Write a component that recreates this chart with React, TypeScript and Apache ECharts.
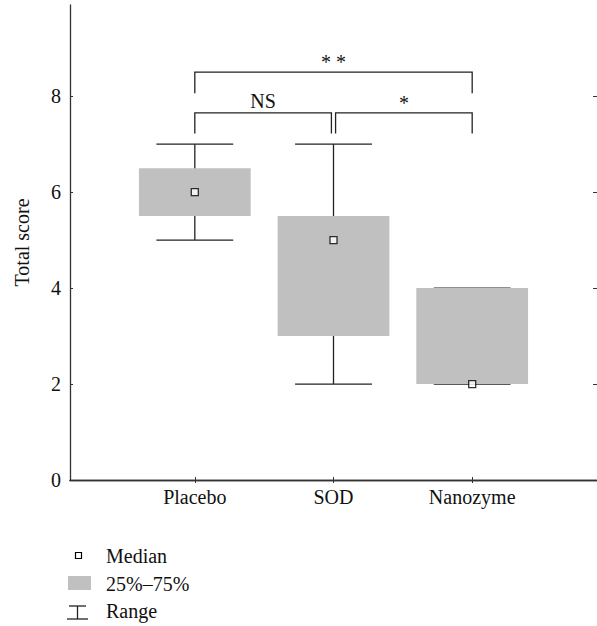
import React, { useEffect, useRef } from "react";
import * as echarts from "echarts";

const categories = ["Placebo", "SOD", "Nanozyme"];
const categoryPos = [1, 2, 3];
const rangeMin = [5, 2, 2];
const q1 = [5.5, 3, 2];
const medians = [6, 5, 2];
const q3 = [6.5, 5.5, 4];
const rangeMax = [7, 7, 4];
const yTicks = [0, 2, 4, 6, 8];
const rightTicks = [2, 4, 6, 8];

const bracketLabels = ["NS", "*", "**"];
const bracketFrom = [1, 2.015, 1];
const bracketTo = [1.985, 3, 3];
const bracketBar = [7.65, 7.65, 8.5];
const bracketLeg = [7.22, 7.22, 8.06];

const FONT = "Liberation Serif";
const FS = 20;
const INK = "#222";
const AXIS = "#333";
const BOX = "#c0c0c0";

export default function App() {
  const ref = useRef<HTMLDivElement>(null);
  useEffect(() => {
    document.body.style.margin = "0";
    if (!ref.current) return;
    const chart = echarts.init(ref.current, undefined, { renderer: "svg" });
    const capHalf = 0.277;
    const boxHalf = 0.403;

    const rangeData = categoryPos.map((p, i) => [p, rangeMin[i], rangeMax[i]]);
    const boxData = categoryPos.map((p, i) => [p, q1[i], q3[i]]);
    const medianData = categoryPos.map((p, i) => [p, medians[i]]);
    const bracketData = bracketLabels.map((l, i) => [
      bracketFrom[i],
      bracketTo[i],
      bracketBar[i],
      bracketLeg[i],
      i,
    ]);

    const option: any = {
      animation: false,
      textStyle: { fontFamily: FONT },
      grid: { left: 70, right: -2, top: 5, bottom: 146, containLabel: false },
      xAxis: [
        {
          type: "value",
          min: 0.1,
          max: 3.9,
          position: "bottom",
          splitLine: { show: false },
          axisLine: { show: true, lineStyle: { color: AXIS, width: 1.3 } },
          axisTick: {
            show: true,
            inside: true,
            length: 3,
            customValues: categoryPos,
            lineStyle: { color: AXIS },
          },
          axisLabel: {
            show: true,
            customValues: categoryPos,
            formatter: (v: number) => categories[Math.round(v) - 1] ?? "",
            fontFamily: FONT,
            fontSize: FS,
            color: "#111",
            margin: 7,
          },
        },
        {
          type: "value",
          min: 0.1,
          max: 3.9,
          position: "top",
          splitLine: { show: false },
          axisLine: { show: true, lineStyle: { color: AXIS, width: 1.3 } },
          axisTick: {
            show: true,
            inside: true,
            length: 3,
            customValues: categoryPos,
            lineStyle: { color: AXIS },
          },
          axisLabel: { show: false },
        },
      ],
      yAxis: [
        {
          type: "value",
          min: 0,
          max: 9.9,
          position: "left",
          name: "Total score",
          nameLocation: "middle",
          nameRotate: 90,
          nameGap: 38,
          nameTextStyle: { fontFamily: FONT, fontSize: FS, color: "#111" },
          splitLine: { show: false },
          axisLine: { show: true, lineStyle: { color: AXIS, width: 1.3 } },
          axisTick: {
            show: true,
            inside: true,
            length: 3,
            customValues: yTicks,
            lineStyle: { color: AXIS },
          },
          axisLabel: {
            show: true,
            customValues: yTicks,
            fontFamily: FONT,
            fontSize: FS,
            color: "#111",
            margin: 9,
          },
        },
        {
          type: "value",
          min: 0,
          max: 9.9,
          position: "right",
          splitLine: { show: false },
          axisLine: { show: false },
          axisTick: {
            show: true,
            inside: true,
            length: 4,
            customValues: rightTicks,
            lineStyle: { color: AXIS },
          },
          axisLabel: { show: false },
        },
      ],
      series: [
        {
          type: "custom",
          name: "Range",
          z: 1,
          data: rangeData,
          renderItem: (params: any, api: any) => {
            const x = api.value(0);
            const lo = api.value(1);
            const hi = api.value(2);
            const pLo = api.coord([x, lo]);
            const pHi = api.coord([x, hi]);
            const lL = api.coord([x - capHalf, lo]);
            const lR = api.coord([x + capHalf, lo]);
            const hL = api.coord([x - capHalf, hi]);
            const hR = api.coord([x + capHalf, hi]);
            const st = { stroke: INK, lineWidth: 1.3 };
            return {
              type: "group",
              children: [
                { type: "line", shape: { x1: pLo[0], y1: pLo[1], x2: pHi[0], y2: pHi[1] }, style: st },
                { type: "line", shape: { x1: lL[0], y1: lL[1], x2: lR[0], y2: lR[1] }, style: st },
                { type: "line", shape: { x1: hL[0], y1: hL[1], x2: hR[0], y2: hR[1] }, style: st },
              ],
            };
          },
        },
        {
          type: "custom",
          name: "25%–75%",
          z: 2,
          data: boxData,
          renderItem: (params: any, api: any) => {
            const x = api.value(0);
            const a = api.coord([x - boxHalf, api.value(2)]);
            const b = api.coord([x + boxHalf, api.value(1)]);
            return {
              type: "rect",
              shape: { x: a[0], y: a[1], width: b[0] - a[0], height: b[1] - a[1] },
              style: { fill: BOX },
            };
          },
        },
        {
          type: "scatter",
          name: "Median",
          z: 3,
          data: medianData,
          symbol: "rect",
          symbolSize: 7,
          itemStyle: { color: "#fff", borderColor: "#000", borderWidth: 1.3 },
        },
        {
          type: "custom",
          name: "Significance",
          z: 4,
          data: bracketData,
          renderItem: (params: any, api: any) => {
            const x1 = api.value(0);
            const x2 = api.value(1);
            const yb = api.value(2);
            const yl = api.value(3);
            const idx = api.value(4);
            const p1 = api.coord([x1, yl]);
            const p2 = api.coord([x1, yb]);
            const p3 = api.coord([x2, yb]);
            const p4 = api.coord([x2, yl]);
            const label = bracketLabels[idx];
            const isStar = label.indexOf("*") >= 0;
            return {
              type: "group",
              children: [
                {
                  type: "polyline",
                  shape: { points: [p1, p2, p3, p4] },
                  style: { stroke: INK, lineWidth: 1.3, fill: "none" },
                },
                {
                  type: "text",
                  x: (p2[0] + p3[0]) / 2,
                  y: p2[1] - (isStar ? 0 : 2),
                  style: {
                    text: isStar ? label.split("").join(" ") : label,
                    fontFamily: FONT,
                    fontSize: FS,
                    fill: "#111",
                    align: "center",
                    verticalAlign: "bottom",
                  },
                },
              ],
            };
          },
        },
      ],
      graphic: [
        {
          type: "rect",
          shape: { x: 75.5, y: 552.5, width: 6, height: 6 },
          style: { fill: "#fff", stroke: "#000", lineWidth: 1.2 },
        },
        {
          type: "text",
          x: 106,
          y: 556,
          style: { text: "Median", fontFamily: FONT, fontSize: FS, fill: "#111", verticalAlign: "middle" },
        },
        {
          type: "rect",
          shape: { x: 68, y: 576, width: 23, height: 14 },
          style: { fill: BOX },
        },
        {
          type: "text",
          x: 106,
          y: 584,
          style: { text: "25%–75%", fontFamily: FONT, fontSize: FS, fill: "#111", verticalAlign: "middle" },
        },
        {
          type: "line",
          shape: { x1: 69, y1: 606, x2: 86, y2: 606 },
          style: { stroke: INK, lineWidth: 1.3 },
        },
        {
          type: "line",
          shape: { x1: 77.5, y1: 606, x2: 77.5, y2: 619 },
          style: { stroke: INK, lineWidth: 1.3 },
        },
        {
          type: "line",
          shape: { x1: 67, y1: 619, x2: 88, y2: 619 },
          style: { stroke: INK, lineWidth: 1.3 },
        },
        {
          type: "text",
          x: 106,
          y: 611,
          style: { text: "Range", fontFamily: FONT, fontSize: FS, fill: "#111", verticalAlign: "middle" },
        },
      ],
    };
    chart.setOption(option);
    return () => chart.dispose();
  }, []);
  return <div ref={ref} style={{ width: 597, height: 626 }} />;
}
